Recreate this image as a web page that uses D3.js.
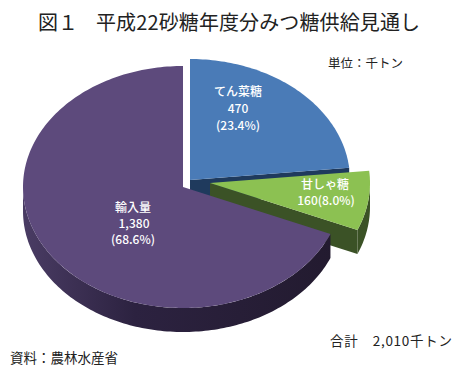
<!DOCTYPE html>
<html><head><meta charset="utf-8">
<script src="https://cdn.jsdelivr.net/npm/d3@7"></script>
<style>
html,body{margin:0;padding:0;background:#fff;}
text{font-family:"Noto Sans CJK JP","Noto Sans",sans-serif;}
</style></head>
<body><svg id="c" width="459" height="380"></svg>
<script>
// data
const categories = ["てん菜糖", "甘しゃ糖", "輸入量"];
const values = [470, 160, 1380];
const valueLabels = ["470", "160", "1,380"];
const percents = ["23.4%", "8.0%", "68.6%"];
const titleParts = ["図１", "平成22砂糖年度分みつ糖供給見通し"];
const unitText = "単位：千トン";
const totalText = "合計　2,010千トン";
const sourceText = "資料：農林水産省";

// styles / geometry
const topColors = ["#4a7bb7", "#8cc152", "#5d4a7c"];
const wallColors = ["#1f3a5d", "#3b5226", "#2b2139"];
const centers = [[190, 180], [210, 183], [183, 187]];
const rx = 160, ry = 121, depth = 24;

const svg = d3.select("#c");
const defs = svg.append("defs");
const grad = defs.append("linearGradient").attr("id", "sideGrad")
  .attr("gradientUnits", "userSpaceOnUse").attr("x1", 22).attr("x2", 345).attr("y1", 0).attr("y2", 0);
grad.append("stop").attr("offset", "0").attr("stop-color", "#4a3c64");
grad.append("stop").attr("offset", "0.35").attr("stop-color", "#2c2240");
grad.append("stop").attr("offset", "1").attr("stop-color", "#221a2e");

const pie = d3.pie().sort(null).startAngle(0).endAngle(2 * Math.PI);
const arcs = pie(values);

function pt(c, a, dy = 0) {
  return [c[0] + rx * Math.sin(a), c[1] - ry * Math.cos(a) + dy];
}
function arcPts(c, a0, a1, dy = 0) {
  const n = Math.max(2, Math.ceil(Math.abs(a1 - a0) / 0.02));
  return d3.range(n + 1).map(i => pt(c, a0 + (a1 - a0) * i / n, dy));
}
const line = d3.line();

const g = svg.append("g");
arcs.forEach((d, i) => {
  const c = centers[i];
  const a0 = d.startAngle, a1 = d.endAngle;
  [[a0, -1], [a1, 1]].forEach(([a, s]) => {
    const normal = a + s * Math.PI / 2;
    if (-Math.cos(normal) > 0.001) {
      const e = pt(c, a);
      g.append("path").attr("d", line([c, e, [e[0], e[1] + depth], [c[0], c[1] + depth]]) + "Z")
        .attr("fill", wallColors[i]);
    }
  });
  const s0 = Math.max(a0, Math.PI / 2), s1 = Math.min(a1, 3 * Math.PI / 2);
  if (s1 > s0) {
    const topP = arcPts(c, s0, s1);
    const botP = arcPts(c, s1, s0, depth);
    g.append("path").attr("d", line(topP.concat(botP)) + "Z")
      .attr("fill", i === 2 ? "url(#sideGrad)" : wallColors[i]);
  }
  g.append("path").attr("d", line([c].concat(arcPts(c, a0, a1))) + "Z")
    .attr("fill", topColors[i]);
});

// slice labels
const labelLines = [
  [[categories[0], 238, 96], [valueLabels[0], 238, 113], ["(" + percents[0] + ")", 238, 130]],
  [[categories[1], 325, 189], [valueLabels[1] + "(" + percents[1] + ")", 326, 205]],
  [[categories[2], 133, 212], [valueLabels[2], 134, 228], ["(" + percents[2] + ")", 133, 244]]
];
labelLines.forEach(ls => ls.forEach(([t, x, y]) => {
  svg.append("text").attr("x", x).attr("y", y).attr("text-anchor", "middle")
    .attr("fill", "#fff").attr("font-size", 12).attr("font-weight", 500).text(t);
}));

function put(t, x, y, size, len) {
  const el = svg.append("text").attr("x", x).attr("y", y).attr("font-size", size).attr("fill", "#222").text(t);
  if (len) el.attr("textLength", len).attr("lengthAdjust", "spacing");
  return el;
}
put(titleParts[0], 38, 30, 20);
put(titleParts[1], 96, 30, 20, 324);
put(unitText, 328, 68, 12.5);
put(totalText, 330, 346, 13.5, 122);
put(sourceText, 10, 363, 13.5);
</script></body></html>
